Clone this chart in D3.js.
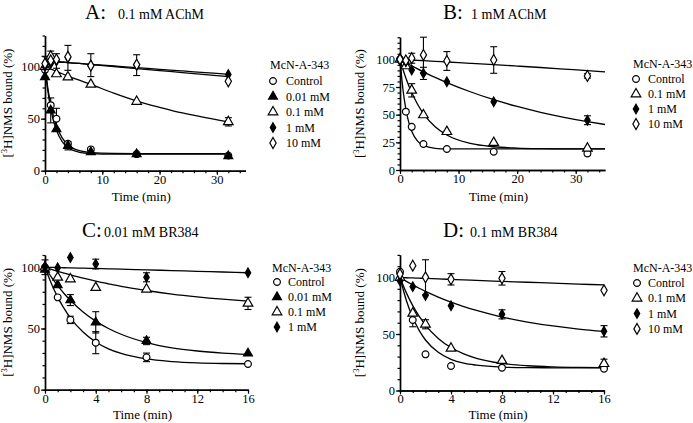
<!DOCTYPE html>
<html><head><meta charset="utf-8">
<script src="https://cdn.jsdelivr.net/npm/d3@7"></script>
<style>
html,body{margin:0;padding:0;background:#fff;}
svg{display:block;font-family:"Liberation Serif","Times New Roman",serif;}
</style></head>
<body>
<svg id="chart" width="693" height="423"></svg>
<script>
// ---------- DATA ----------
const labelsA = ["Control", "0.01 mM", "0.1 mM", "1 mM", "10 mM"];
const labelsB = ["Control", "0.1 mM", "1 mM", "10 mM"];
const labelsC = ["Control", "0.01 mM", "0.1 mM", "1 mM"];
const labelsD = ["Control", "0.1 mM", "1 mM", "10 mM"];

const timesAB = [0, 1, 2, 4, 8, 16, 32];
const timesCD = [0, 1, 2, 4, 8, 16];

// Panel A: 0.1 mM AChM
const aControl = [97, 63, 50, 26, 20.5, 16, 14.5];
const aControlErr = [0, 0, 10, 0, 0, 0, 0];
const a001 = [90, 58, 40, 24, 18, 16, 14];
const a001Err = [0, 12, 0, 4, 0, 0, 0];
const a01 = [100, 110, 93, 90, 83, 66.5, 47];
const a01Err = [10, 5, 0, 0, 0, 0, 4];
const a1 = [100, 103, 105.5, 108.5, 101.5, 101.5, 92.5];
const a1Err = [0, 0, 7, 12, 11, 10, 0];
const a10 = [103, 106, 107, 109.5, 101, 102, 86];
const a10Err = [0, 0, 0, 0, 0, 0, 0];

// Panel B: 1 mM AChM
const bControl = [100, 52.7, 39, 23.5, 19, 16.5, 15];
const bControlErr = [0, 0, 0, 0, 0, 0, 2];
const b01 = [100, 94, 72, 49.7, 34.6, 24.7, 19.6];
const b01Err = [0, 0, 6, 0, 0, 0, 0];
const b1 = [99, 97.8, 90.3, 87.3, 79.8, 61.7, 45];
const b1Err = [0, 0, 0, 5.5, 0, 0, 4];
const b10 = [100, 99, 101, 104, 98.5, 99.4, 85];
const b10Err = [0, 0, 4.5, 16, 8.5, 12, 2];

// Panel C: 0.01 mM BR384
const cControl = [100, 75.4, 57, 38.4, 26.4, 21];
const cControlErr = [6, 0, 3, 9, 3.5, 0];
const c001 = [98, 85.5, 73.2, 55, 39.8, 29.7];
const c001Err = [0, 0, 4.5, 8.7, 3, 0];
const c01 = [100, 91.7, 90.4, 83.3, 82, 70.5];
const c01Err = [0, 0, 0, 0, 0, 5];
const c1 = [100, 99.6, 108, 102.6, 91.8, 95.5];
const c1Err = [0, 0, 0, 4, 3.7, 0];

// Panel D: 0.1 mM BR384
const dControl = [105, 62.4, 32, 21.7, 20.2, 19.3];
const dControlErr = [0, 6, 0, 0, 0, 0];
const d01 = [100, 68.3, 58.6, 37.3, 26.4, 23.7];
const d01Err = [0, 0, 4, 0, 0, 4];
const d1 = [97, 91.9, 84, 75, 67.4, 52.4];
const d1Err = [0, 0, 0, 0, 4, 5];
const d10 = [103, 110.4, 100.2, 98.4, 99.3, 88.7];
const d10Err = [0, 0, 15.5, 5, 6, 0];

// Fitted curves (values at these times)
const fitTimesA = [0, 0.5, 1, 1.5, 2, 3, 4, 6, 8, 12, 16, 20, 24, 28, 32];
const fitAControl = [100, 79.3, 63.7, 52.0, 43.2, 31.6, 25.0, 19.2, 17.4, 16.6, 16.5, 16.5, 16.5, 16.5, 16.5];
const fitA001 = [100, 76.7, 59.8, 47.7, 38.9, 27.9, 22.2, 17.7, 16.5, 16, 16, 16, 16, 16, 16];
const fitA01 = [100, 98.9, 97.8, 96.6, 95.5, 93.2, 91, 87, 83, 74.5, 67, 61, 55.5, 51, 47];
const fitA1 = [105.5, 105.3, 105.1, 104.9, 104.7, 104.3, 103.9, 103.1, 102.3, 100.7, 99.1, 97.5, 95.9, 94.3, 92.7];
const fitA10 = [106, 105.8, 105.5, 105.3, 105, 104.5, 104, 103.1, 102.1, 100.2, 98.2, 96.3, 94.3, 92.4, 90.4];

const fitTimesB = [0, 0.5, 1, 1.5, 2, 3, 4, 6, 8, 12, 16, 20, 24, 28, 32, 35];
const fitBControl = [100, 73, 55, 43, 35, 26.1, 22.2, 19.6, 19.1, 19, 19, 19, 19, 19, 19, 19];
const fitB01 = [100, 91.1, 83.2, 76.2, 70, 59.4, 51, 39.1, 31.6, 24, 21, 19.8, 19.3, 19.1, 19, 19];
const fitB1 = [100, 98.5, 97, 95.6, 94.2, 91.4, 88.7, 83.7, 79, 70.7, 63.5, 57.4, 52.1, 47.6, 43.7, 41.1];
const fitB10 = [100, 99.9, 99.7, 99.6, 99.4, 99.1, 98.8, 98.2, 97.6, 96.4, 95.2, 93.9, 92.6, 91.2, 89.8, 88.7];

const fitTimesCD = [0, 0.5, 1, 1.5, 2, 3, 4, 5, 6, 8, 10, 12, 14, 16];
const fitCControl = [100, 86.7, 75.6, 66.4, 58.7, 47.1, 39, 33.4, 29.6, 25.1, 23, 21.9, 21.4, 21.2];
const fitC001 = [100, 92, 85, 78.6, 73, 63.5, 56, 50, 45.3, 38.5, 34.2, 31.6, 29.9, 28.8];
const fitC01 = [100, 98.3, 96.7, 95.2, 93.8, 91.1, 88.7, 86.5, 84.4, 81, 78.1, 75.8, 73.9, 72.3];
const fitC1 = [100, 99.9, 99.8, 99.6, 99.5, 99.2, 99, 98.7, 98.4, 97.9, 97.3, 96.7, 96.1, 95.5];

const fitDControl = [100, 79.7, 64.5, 53.2, 44.7, 33.8, 27.6, 24.2, 22.4, 20.7, 20.2, 20.1, 20, 20];
const fitD01 = [100, 86.4, 75.1, 65.8, 57.9, 46.1, 38, 32.4, 28.5, 24, 21.9, 20.9, 20.4, 20.2];
const fitD1 = [100, 96.6, 93.5, 90.5, 87.7, 82.7, 78.2, 74.3, 70.8, 65, 60.6, 57.1, 54.4, 52.3];
const fitD10 = [100, 99.8, 99.6, 99.4, 99.2, 98.7, 98.3, 97.9, 97.4, 96.6, 95.8, 95, 94.2, 93.4];

const ticksX_AB = [0, 10, 20, 30];
const ticksX_CD = [0, 4, 8, 12, 16];
const ticksY_A = [0, 50, 100];
const ticksY_B = [0, 25, 50, 75, 100];
const ticksY_CD = [0, 50, 100];

const titleLetters = ["A:", "B:", "C:", "D:"];
const titleTexts = ["0.1 mM AChM", "1 mM AChM", "0.01 mM BR384", "0.1 mM BR384"];
const legendTitle = "McN-A-343";

// ---------- LAYOUT ----------
const panels = [
  { letter: titleLetters[0], text: titleTexts[0], labels: labelsA, times: timesAB,
    vals: [aControl, a001, a01, a1, a10], errs: [aControlErr, a001Err, a01Err, a1Err, a10Err],
    fitT: fitTimesA, fits: [fitAControl, fitA001, fitA01, fitA1, fitA10],
    xDom: [0, 35], xR: [45, 245.5], yDom: [0, 130], yR: [170.7, 35.5],
    xTicks: ticksX_AB, xMinor: 2, yTicks: ticksY_A, yMinor: 10,
    titleX: 85, subX: 118, titleY: 19, yLabX: 12, xLabY: 201,
    legX: 270, legY: 69, legSymX: 273, legTextX: 286, legRow0: 81, legStep: 15.5 },
  { letter: titleLetters[1], text: titleTexts[1], labels: labelsB, times: timesAB,
    vals: [bControl, b01, b1, b10], errs: [bControlErr, b01Err, b1Err, b10Err],
    fitT: fitTimesB, fits: [fitBControl, fitB01, fitB1, fitB10],
    xDom: [0, 35], xR: [400, 605], yDom: [0, 120], yR: [170, 37.2],
    xTicks: ticksX_AB, xMinor: 2, yTicks: ticksY_B, yMinor: 5,
    titleX: 443, subX: 471, titleY: 19, yLabX: 364, xLabY: 201,
    legX: 633, legY: 68, legSymX: 636, legTextX: 648, legRow0: 79, legStep: 15 },
  { letter: titleLetters[2], text: titleTexts[2], labels: labelsC, times: timesCD,
    vals: [cControl, c001, c01, c1], errs: [cControlErr, c001Err, c01Err, c1Err],
    fitT: fitTimesCD, fits: [fitCControl, fitC001, fitC01, fitC1],
    xDom: [0, 16], xR: [45, 248], yDom: [0, 110], yR: [389.7, 255],
    xTicks: ticksX_CD, xMinor: 1, yTicks: ticksY_CD, yMinor: 10,
    titleX: 82, subX: 104, titleY: 237, yLabX: 12, xLabY: 418.5,
    legX: 272, legY: 272, legSymX: 277, legTextX: 288, legRow0: 282, legStep: 15 },
  { letter: titleLetters[3], text: titleTexts[3], labels: labelsD, times: timesCD,
    vals: [dControl, d01, d1, d10], errs: [dControlErr, d01Err, d1Err, d10Err],
    fitT: fitTimesCD, fits: [fitDControl, fitD01, fitD1, fitD10],
    xDom: [0, 16], xR: [400, 604], yDom: [0, 120], yR: [390.5, 254.9],
    xTicks: ticksX_CD, xMinor: 1, yTicks: ticksY_CD, yMinor: 10,
    titleX: 443, subX: 470, titleY: 237, yLabX: 364, xLabY: 418.5,
    legX: 633, legY: 272, legSymX: 637, legTextX: 648, legRow0: 283, legStep: 15.3 }
];

const symbolStyle = {
  "Control": { type: d3.symbolCircle, size: 36, fill: "#fff" },
  "0.01 mM": { type: d3.symbolTriangle, size: 34, fill: "#000" },
  "0.1 mM":  { type: d3.symbolTriangle, size: 40, fill: "#fff" },
  "1 mM":    { type: d3.symbolDiamond, size: 26, fill: "#000" },
  "10 mM":   { type: d3.symbolDiamond, size: 34, fill: "#fff" }
};

const svg = d3.select("#chart");
const FONT = "Liberation Serif, Times New Roman, serif";

panels.forEach(p => {
  const g = svg.append("g");
  const x = d3.scaleLinear().domain(p.xDom).range(p.xR);
  const y = d3.scaleLinear().domain(p.yDom).range(p.yR);

  // title
  g.append("text").attr("x", p.titleX).attr("y", p.titleY)
    .attr("font-size", 21).text(p.letter);
  g.append("text").attr("x", p.subX).attr("y", p.titleY)
    .attr("font-size", 14).text(p.text);

  // axes
  const y0 = p.yR[0], x0 = p.xR[0];
  const xMinorTicks = d3.range(p.xDom[0], p.xDom[1] + 1e-9, p.xMinor);
  const yMinorTicks = d3.range(p.yDom[0], p.yDom[1] + 1e-9, p.yMinor);

  const xAxisMinor = g.append("g").attr("transform", `translate(0,${y0})`)
    .call(d3.axisBottom(x).tickValues(xMinorTicks).tickSize(2.5).tickSizeOuter(0).tickFormat(""));
  const xAxis = g.append("g").attr("transform", `translate(0,${y0})`)
    .call(d3.axisBottom(x).tickValues(p.xTicks).tickSize(4).tickSizeOuter(0).tickPadding(0));
  const yAxisMinor = g.append("g").attr("transform", `translate(${x0},0)`)
    .call(d3.axisLeft(y).tickValues(yMinorTicks).tickSize(2.5).tickSizeOuter(0).tickFormat(""));
  const yAxis = g.append("g").attr("transform", `translate(${x0},0)`)
    .call(d3.axisLeft(y).tickValues(p.yTicks).tickSize(4).tickSizeOuter(0).tickPadding(1));

  [xAxisMinor, xAxis, yAxisMinor, yAxis].forEach(a => {
    a.attr("font-family", FONT);
    a.selectAll(".domain").attr("stroke", "#000").attr("stroke-width", 1.4);
    a.selectAll(".tick line").attr("stroke", "#000").attr("stroke-width", 1.2);
    a.selectAll("text").attr("font-family", FONT)
      .attr("font-size", 12.5).attr("fill", "#000");
  });

  // axis titles
  g.append("text").attr("x", (p.xR[0] + p.xR[1]) / 2 - 4).attr("y", p.xLabY)
    .attr("text-anchor", "middle").attr("font-size", 13).text("Time (min)");
  const cy = (p.yR[0] + p.yR[1]) / 2;
  const yl = g.append("text").attr("transform", `translate(${p.yLabX},${cy}) rotate(-90)`)
    .attr("text-anchor", "middle").attr("font-size", 13);
  yl.append("tspan").text("[");
  yl.append("tspan").attr("font-size", 8.5).attr("dy", -5).text("3");
  yl.append("tspan").attr("dy", 5).text("H]NMS bound (%)");

  // fitted lines
  const line = d3.line().curve(d3.curveMonotoneX).x(d => x(d[0])).y(d => y(d[1]));
  p.fits.forEach(f => {
    const pts = p.fitT.map((t, i) => [t, f[i]]);
    g.append("path").attr("d", line(pts)).attr("fill", "none")
      .attr("stroke", "#000").attr("stroke-width", 1.3);
  });

  // error bars
  p.vals.forEach((vals, si) => {
    const errs = p.errs[si];
    vals.forEach((v, i) => {
      const e = errs[i];
      if (!e) return;
      const cx = x(p.times[i]);
      g.append("line").attr("x1", cx).attr("x2", cx).attr("y1", y(v - e)).attr("y2", y(v + e))
        .attr("stroke", "#000").attr("stroke-width", 1.1);
      [v - e, v + e].forEach(w => {
        g.append("line").attr("x1", cx - 3.5).attr("x2", cx + 3.5).attr("y1", y(w)).attr("y2", y(w))
          .attr("stroke", "#000").attr("stroke-width", 1.1);
      });
    });
  });

  // markers
  p.vals.forEach((vals, si) => {
    const st = symbolStyle[p.labels[si]];
    const sym = d3.symbol().type(st.type).size(st.size);
    vals.forEach((v, i) => {
      g.append("path").attr("d", sym())
        .attr("transform", `translate(${x(p.times[i])},${y(v)})`)
        .attr("fill", st.fill).attr("stroke", "#000").attr("stroke-width", 1.2);
    });
  });

  // legend
  g.append("text").attr("x", p.legX).attr("y", p.legY).attr("font-size", 12).text(legendTitle);
  p.labels.forEach((lab, i) => {
    const st = symbolStyle[lab];
    const ry = p.legRow0 + i * p.legStep;
    g.append("path").attr("d", d3.symbol().type(st.type).size(st.size)())
      .attr("transform", `translate(${p.legSymX},${ry})`)
      .attr("fill", st.fill).attr("stroke", "#000").attr("stroke-width", 1.2);
    g.append("text").attr("x", p.legTextX).attr("y", ry + 4).attr("font-size", 12).text(lab);
  });
});
</script>
</body></html>
